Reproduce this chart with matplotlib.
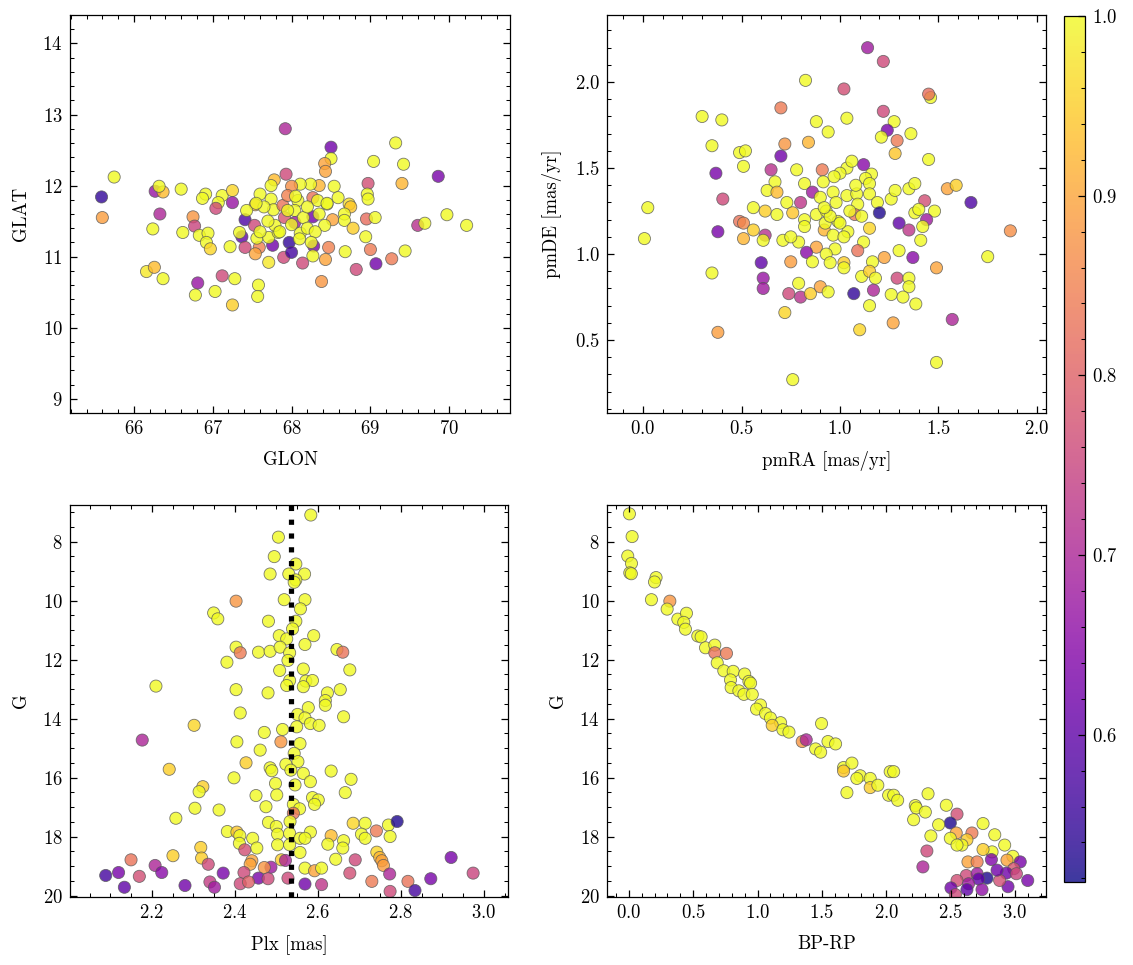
import numpy as np
import matplotlib
matplotlib.use("Agg")
import matplotlib.pyplot as plt
from matplotlib.ticker import MultipleLocator

# --- sky positions (GLON, GLAT, membership probability)
glon = [65.75, 65.59, 65.60, 66.27, 66.37, 66.32, 66.33, 66.24, 66.60, 66.91, 66.87, 67.12, 67.07, 67.25,
        67.25, 67.04, 66.75, 66.77, 66.62, 66.83, 66.94, 66.92, 66.97, 67.22, 66.16, 66.26, 66.37, 66.81,
        67.12, 67.28, 66.78, 67.03, 67.25, 67.58, 67.57, 67.92, 67.41, 67.37, 67.53, 67.41, 67.59, 67.54,
        67.76, 67.71, 67.60, 67.54, 67.74, 67.77, 67.43, 67.78, 67.74, 67.34, 67.56, 67.71, 67.83, 67.79,
        67.93, 67.89, 67.91, 67.90, 67.97,
        68.50, 68.50, 68.42, 68.43, 69.32, 69.04, 69.42, 69.86, 69.40, 68.97, 68.96, 68.97, 68.54, 68.59,
        68.45, 68.35, 68.24, 68.11, 68.00, 67.95, 68.27, 68.08, 68.33, 68.04, 68.73, 68.75, 68.67, 68.27,
        68.04, 68.52, 68.67, 68.78, 68.42, 68.95, 69.06, 69.60, 69.69, 69.97, 70.22, 68.94, 68.11, 68.00,
        68.28, 68.47, 68.27, 68.43, 68.14, 68.68, 69.00, 69.44, 68.82, 69.07, 69.27, 68.38,
        67.95, 68.00, 68.15, 68.20, 67.85, 68.10, 68.30, 68.05, 67.65, 68.20, 67.70, 68.35, 67.60, 68.45,
        67.55, 68.25]
glat = [12.12, 11.84, 11.55, 11.92, 11.91, 11.99, 11.60, 11.39, 11.95, 11.88, 11.82, 11.86, 11.76, 11.93,
        11.76, 11.68, 11.56, 11.43, 11.34, 11.30, 11.33, 11.20, 11.11, 11.14, 10.79, 10.85, 10.69, 10.63,
        10.73, 10.69, 10.46, 10.51, 10.32, 10.60, 10.44, 12.80, 11.52, 11.28, 11.44, 11.13, 11.13, 11.04,
        11.16, 10.92, 11.88, 11.73, 11.81, 11.66, 11.65, 12.08, 12.00, 11.34, 11.26, 11.27, 11.34, 11.44,
        12.16, 11.72, 11.55, 10.99, 11.20,
        12.54, 12.38, 12.31, 12.20, 12.60, 12.34, 12.30, 12.13, 12.03, 12.03, 11.88, 11.81, 11.99, 11.83,
        11.74, 12.00, 12.02, 12.02, 11.99, 11.86, 11.83, 11.79, 11.79, 11.65, 11.74, 11.70, 11.60, 11.56,
        11.48, 11.52, 11.51, 11.40, 11.44, 11.53, 11.55, 11.44, 11.47, 11.59, 11.44, 11.28, 11.33, 11.06,
        11.15, 11.13, 11.01, 10.96, 10.91, 11.07, 11.10, 11.08, 10.82, 10.90, 10.97, 10.65,
        11.65, 11.45, 11.55, 11.40, 11.35, 11.25, 11.35, 11.85, 11.70, 11.70, 11.50, 11.60, 11.35, 11.75,
        11.75, 11.20]
p_sky = [1.0, 0.55, 0.89, 0.67, 0.93, 1.0, 0.70, 1.0, 1.0, 1.0, 1.0, 1.0, 1.0, 0.96,
         0.67, 0.76, 0.88, 0.75, 1.0, 1.0, 1.0, 1.0, 0.96, 1.0, 0.98, 0.93, 1.0, 0.67,
         0.76, 1.0, 1.0, 1.0, 0.95, 1.0, 1.0, 0.70, 0.58, 0.60, 0.76, 0.76, 0.85, 0.90,
         0.62, 0.98, 1.0, 0.92, 1.0, 1.0, 1.0, 0.93, 1.0, 1.0, 1.0, 1.0, 1.0, 1.0,
         0.76, 0.83, 0.78, 0.76, 0.55,
         0.62, 1.0, 0.90, 0.90, 1.0, 1.0, 1.0, 0.63, 0.92, 0.77, 1.0, 1.0, 1.0, 1.0,
         1.0, 0.92, 1.0, 1.0, 0.87, 0.85, 0.83, 1.0, 1.0, 1.0, 0.97, 0.94, 1.0, 0.62,
         0.68, 0.90, 1.0, 0.95, 1.0, 0.82, 1.0, 0.72, 1.0, 1.0, 1.0, 1.0, 1.0, 0.57,
         0.63, 0.85, 1.0, 0.90, 0.76, 1.0, 0.84, 1.0, 0.76, 0.62, 0.84, 0.88,
         1.0, 1.0, 1.0, 1.0, 1.0, 1.0, 1.0, 1.0, 1.0, 1.0, 1.0, 1.0, 1.0, 1.0,
         1.0, 1.0]

# --- proper motions (pmRA, pmDE, probability)
pmra = [0.825, 0.70, 0.30, 0.40, 0.88, 0.35, 0.72, 0.84, 0.49, 0.52, 0.51, 0.70, 0.37, 0.65, 0.78, 0.91,
        0.67, 0.63, 0.68, 0.82, 0.86, 0.405, 0.024, 0.007, 0.73, 0.80, 0.56, 0.62, 0.68, 0.76, 0.82, 0.82,
        0.88, 0.93, 0.49, 0.51, 0.38, 0.56, 0.51, 0.62, 0.61, 0.71, 0.79, 0.75, 0.92, 0.88, 0.83, 0.86,
        0.60, 0.75, 0.35, 0.61, 0.61, 0.74, 0.80, 0.79, 0.85, 0.90, 0.72, 0.38, 0.76,
        1.14, 1.22, 1.02, 1.46, 1.45, 1.22, 1.035, 0.94, 1.275, 1.24, 1.21, 1.36, 1.29, 1.28, 1.45, 1.12,
        1.035, 1.06, 1.00, 1.16, 1.13, 1.15, 0.915, 0.965, 1.035, 1.085, 1.15, 1.09, 1.19, 1.26, 1.28, 1.35,
        1.38, 1.545, 1.59, 1.665, 1.43, 1.38, 1.40, 1.48, 1.20, 1.075, 1.11, 1.30, 1.44, 1.35, 1.42, 1.41,
        1.865, 1.15, 0.925, 0.99, 1.04, 0.965, 1.12, 1.09, 0.975, 0.93, 1.30, 1.37, 1.225, 1.165, 1.02, 1.02,
        1.75, 1.49, 0.95, 1.11, 1.15, 1.18, 1.29, 1.35, 1.35, 1.07, 1.17, 1.26, 1.32, 0.94, 1.15, 1.385,
        1.57, 1.27, 1.10, 1.49,
        0.98, 1.05, 0.95, 1.00, 1.08, 0.90, 0.97, 1.02, 0.92]
pmde = [2.01, 1.85, 1.80, 1.78, 1.77, 1.63, 1.64, 1.65, 1.59, 1.60, 1.51, 1.57, 1.47, 1.49, 1.49, 1.49,
        1.42, 1.37, 1.36, 1.41, 1.36, 1.32, 1.27, 1.09, 1.30, 1.30, 1.27, 1.25, 1.23, 1.24, 1.20, 1.16,
        1.23, 1.25, 1.19, 1.18, 1.13, 1.14, 1.09, 1.11, 1.08, 1.08, 1.07, 1.10, 1.14, 1.04, 1.01, 0.955,
        0.95, 0.955, 0.89, 0.86, 0.80, 0.77, 0.75, 0.83, 0.77, 0.81, 0.66, 0.545, 0.27,
        2.20, 2.12, 1.96, 1.91, 1.93, 1.83, 1.79, 1.71, 1.77, 1.72, 1.68, 1.70, 1.66, 1.585, 1.55, 1.52,
        1.50, 1.54, 1.47, 1.465, 1.44, 1.41, 1.42, 1.36, 1.34, 1.35, 1.35, 1.29, 1.30, 1.32, 1.37, 1.38,
        1.41, 1.38, 1.40, 1.30, 1.31, 1.24, 1.26, 1.25, 1.24, 1.23, 1.22, 1.18, 1.20, 1.14, 1.16, 1.08,
        1.135, 1.15, 1.18, 1.19, 1.13, 1.11, 1.07, 1.02, 1.03, 1.00, 1.02, 0.98, 0.98, 0.955, 0.95, 0.92,
        0.985, 0.92, 0.95, 0.87, 0.90, 0.86, 0.86, 0.86, 0.81, 0.77, 0.79, 0.765, 0.75, 0.78, 0.70, 0.71,
        0.62, 0.60, 0.56, 0.37,
        1.30, 1.25, 1.22, 1.18, 1.40, 1.33, 1.45, 1.10, 1.27]
p_pm = [1.0, 0.84, 1.0, 1.0, 1.0, 1.0, 0.88, 0.92, 1.0, 1.0, 1.0, 0.62, 0.63, 0.72, 1.0, 0.84,
        1.0, 1.0, 0.93, 1.0, 0.68, 0.76, 1.0, 1.0, 1.0, 0.73, 1.0, 0.95, 1.0, 0.94, 1.0, 1.0,
        1.0, 1.0, 0.83, 0.86, 0.63, 0.95, 0.92, 0.72, 1.0, 1.0, 1.0, 1.0, 0.92, 0.90, 0.65, 1.0,
        0.60, 0.89, 1.0, 0.67, 0.68, 0.76, 0.72, 1.0, 0.95, 0.90, 0.96, 0.89, 1.0,
        0.68, 0.76, 0.77, 1.0, 0.82, 0.76, 1.0, 1.0, 1.0, 0.63, 1.0, 1.0, 0.84, 0.94, 1.0, 0.65,
        1.0, 1.0, 1.0, 1.0, 1.0, 1.0, 1.0, 1.0, 1.0, 1.0, 1.0, 1.0, 1.0, 1.0, 1.0, 1.0,
        1.0, 0.90, 0.95, 0.58, 0.77, 1.0, 1.0, 1.0, 0.53, 0.84, 1.0, 0.60, 0.68, 0.73, 1.0, 1.0,
        0.87, 0.96, 1.0, 1.0, 1.0, 1.0, 1.0, 0.83, 1.0, 1.0, 1.0, 0.65, 0.90, 1.0, 0.95, 1.0,
        1.0, 0.90, 1.0, 1.0, 0.95, 1.0, 0.76, 1.0, 1.0, 0.55, 0.70, 1.0, 1.0, 1.0, 1.0, 1.0,
        0.70, 0.90, 0.96, 1.0,
        1.0, 1.0, 1.0, 1.0, 1.0, 1.0, 1.0, 1.0, 1.0]

# --- parallax vs G
plx = [2.583, 2.505, 2.495, 2.547, 2.485, 2.530, 2.568, 2.547, 2.543, 2.403, 2.519, 2.569, 2.558, 2.349,
       2.359, 2.481, 2.547, 2.539, 2.507, 2.525, 2.590, 2.569, 2.403, 2.413, 2.457, 2.485, 2.509, 2.532,
       2.646, 2.660, 2.381, 2.528, 2.508, 2.565, 2.677, 2.532, 2.571, 2.587, 2.525, 2.565, 2.210, 2.403,
       2.480, 2.623, 2.654, 2.618,
       2.618, 2.577, 2.413, 2.551, 2.569, 2.582, 2.549, 2.603, 2.662, 2.302, 2.177, 2.471, 2.515, 2.511,
       2.405, 2.557, 2.461, 2.543, 2.552, 2.427, 2.523, 2.485, 2.489, 2.242, 2.535, 2.565, 2.582, 2.632,
       2.680, 2.398, 2.498, 2.545, 2.323, 2.314, 2.501, 2.451, 2.587, 2.601, 2.592, 2.666, 2.475, 2.541,
       2.304, 2.362, 2.556, 2.541, 2.258, 2.481, 2.500, 2.533, 2.685, 2.714, 2.770, 2.791, 2.382, 2.405,
       2.412, 2.503, 2.532, 2.582, 2.443, 2.557, 2.569, 2.632, 2.662, 2.705, 2.741, 2.714, 2.774, 2.411,
       2.503, 2.532, 2.624, 2.660, 2.318, 2.453, 2.424, 2.557, 2.742, 2.749, 2.754, 2.758, 2.251, 2.320,
       2.150, 2.441, 2.437, 2.512, 2.522, 2.643, 2.690, 2.208, 2.336, 2.487, 2.471, 2.569, 2.592, 2.609,
       2.120, 2.224, 2.170, 2.089, 2.372, 2.422, 2.457, 2.480, 2.528, 2.677, 2.773, 2.921, 2.974, 2.872,
       2.817, 2.730, 2.134, 2.280, 2.340, 2.351, 2.413, 2.433, 2.569, 2.609, 2.774, 2.834]
g_plx = [7.10, 7.85, 8.51, 8.76, 9.10, 9.10, 9.10, 9.30, 9.38, 10.02, 9.97, 9.97, 10.28, 10.42,
         10.62, 10.70, 10.70, 10.96, 11.19, 11.30, 11.19, 11.49, 11.58, 11.77, 11.75, 11.72, 11.58, 11.77,
         11.66, 11.75, 12.09, 12.03, 12.37, 12.32, 12.35, 12.71, 12.73, 12.71, 12.88, 12.92, 12.90, 13.02,
         13.13, 13.13, 13.02, 13.39,
         13.55, 13.63, 13.81, 13.86, 13.98, 14.17, 14.28, 14.23, 13.94, 14.23, 14.73, 14.47, 14.37, 14.79,
         14.79, 14.85, 15.07, 15.18, 15.46, 15.50, 15.55, 15.67, 15.77, 15.72, 15.75, 15.86, 16.14, 15.78,
         16.06, 16.01, 16.20, 16.25, 16.31, 16.48, 16.59, 16.61, 16.68, 16.76, 16.91, 16.51, 16.99, 16.91,
         17.04, 17.10, 17.06, 17.21, 17.38, 17.52, 17.66, 17.49, 17.55, 17.55, 17.61, 17.49, 17.83, 17.85,
         17.97, 17.92, 17.89, 17.85, 18.06, 18.06, 18.06, 17.97, 18.14, 17.92, 17.81, 18.06, 18.00, 18.23,
         18.28, 18.28, 18.26, 18.39, 18.37, 18.39, 18.45, 18.54, 18.53, 18.71, 18.82, 18.98, 18.65, 18.73,
         18.79, 18.82, 18.94, 18.79, 18.81, 18.77, 18.79, 18.98, 18.94, 19.04, 19.05, 19.07, 19.16, 19.07,
         19.22, 19.22, 19.35, 19.32, 19.24, 19.22, 19.41, 19.43, 19.41, 19.24, 19.27, 18.71, 19.24, 19.43,
         19.52, 19.52, 19.72, 19.66, 19.54, 19.72, 19.60, 19.54, 19.61, 19.63, 19.86, 19.83]
p_plx = [1.0, 1.0, 1.0, 1.0, 1.0, 1.0, 1.0, 1.0, 1.0, 0.88, 1.0, 1.0, 1.0, 1.0,
         1.0, 1.0, 1.0, 1.0, 1.0, 1.0, 1.0, 1.0, 1.0, 0.84, 1.0, 1.0, 1.0, 1.0,
         1.0, 0.83, 1.0, 1.0, 1.0, 1.0, 1.0, 1.0, 1.0, 1.0, 1.0, 1.0, 1.0, 1.0,
         1.0, 1.0, 1.0, 1.0,
         1.0, 1.0, 1.0, 1.0, 1.0, 1.0, 1.0, 1.0, 1.0, 0.96, 0.70, 1.0, 1.0, 0.88,
         1.0, 1.0, 1.0, 1.0, 1.0, 0.95, 1.0, 1.0, 1.0, 0.95, 1.0, 1.0, 1.0, 1.0,
         1.0, 1.0, 1.0, 1.0, 0.95, 1.0, 1.0, 1.0, 1.0, 1.0, 1.0, 1.0, 1.0, 1.0,
         1.0, 1.0, 1.0, 0.83, 1.0, 1.0, 1.0, 1.0, 0.96, 1.0, 1.0, 0.53, 1.0, 0.94,
         1.0, 1.0, 1.0, 1.0, 1.0, 1.0, 1.0, 0.93, 1.0, 1.0, 0.84, 1.0, 1.0, 1.0,
         1.0, 1.0, 1.0, 1.0, 0.95, 1.0, 0.77, 1.0, 0.96, 0.92, 0.90, 0.89, 0.95, 0.95,
         0.83, 0.90, 0.90, 0.95, 0.70, 1.0, 0.76, 0.70, 0.76, 0.68, 0.88, 1.0, 0.90, 1.0,
         0.63, 0.65, 0.77, 0.57, 0.63, 0.76, 0.63, 0.76, 0.76, 0.77, 0.70, 0.63, 0.75, 0.63,
         0.83, 0.84, 0.60, 0.62, 0.74, 0.68, 0.76, 0.80, 0.62, 0.73, 0.76, 0.57]
plx_mean = 2.535

# --- colour-magnitude diagram
bprp = [0.005, 0.026, -0.008, 0.021, 0.008, 0.02, 0.212, 0.20, 0.176, 0.319, 0.298, 0.381, 0.448, 0.427,
        0.44, 0.536, 0.562, 0.596, 0.668, 0.668, 0.759, 0.687, 0.738, 0.811, 0.90, 0.933, 0.946, 0.79,
        0.795, 0.855, 0.894, 0.959, 1.023, 0.992, 1.062, 1.10, 1.179, 1.114, 1.197, 1.244, 1.497, 1.347,
        1.378, 1.547, 1.606, 1.451, 1.49,
        1.668, 1.733, 1.668, 1.797, 1.771, 1.875, 1.875, 1.934, 1.694, 2.03, 2.057, 2.018, 2.057, 2.088,
        2.324, 2.225, 2.233, 2.303, 2.212, 2.466, 2.549, 2.497, 2.406, 2.751, 2.842, 2.346, 2.543, 2.665,
        2.497, 2.626, 2.587, 2.549, 2.919, 2.821, 2.751, 2.983, 2.315, 2.284, 2.634, 2.705, 2.816, 2.937,
        3.04, 2.99, 2.621, 2.705, 2.782, 2.717, 2.932, 3.01, 3.098, 2.549, 2.639, 2.502, 2.626, 2.743,
        2.945, 2.536, 2.88, 2.86]
g_cmd = [7.06, 7.83, 8.49, 8.74, 9.06, 9.09, 9.22, 9.37, 9.97, 10.02, 10.29, 10.63, 10.43, 10.74,
         10.97, 11.20, 11.23, 11.60, 11.51, 11.77, 11.79, 12.11, 12.38, 12.40, 12.49, 12.74, 12.80, 12.69,
         12.95, 13.06, 13.18, 13.18, 13.54, 13.68, 13.83, 13.98, 14.14, 14.23, 14.38, 14.46, 14.17, 14.78,
         14.72, 14.78, 14.86, 15.03, 15.14,
         15.66, 15.51, 15.78, 15.94, 16.03, 16.03, 16.34, 16.26, 16.51, 15.80, 15.80, 16.60, 16.60, 16.77,
         16.55, 16.95, 17.03, 17.17, 17.43, 16.94, 17.24, 17.54, 17.60, 17.56, 17.94, 17.98, 17.88, 17.88,
         18.06, 18.11, 18.29, 18.29, 18.29, 18.52, 18.44, 18.67, 18.49, 19.03, 18.86, 18.86, 18.78, 18.80,
         18.86, 19.09, 19.32, 19.26, 19.41, 19.44, 19.24, 19.26, 19.49, 19.49, 19.60, 19.74, 19.80, 19.80,
         19.70, 19.97, 19.49, 19.14]
p_cmd = [1.0, 1.0, 1.0, 1.0, 1.0, 1.0, 1.0, 1.0, 1.0, 0.88, 1.0, 1.0, 1.0, 1.0,
         1.0, 1.0, 1.0, 1.0, 1.0, 0.83, 0.84, 1.0, 1.0, 1.0, 1.0, 1.0, 1.0, 1.0,
         1.0, 1.0, 1.0, 1.0, 1.0, 1.0, 1.0, 1.0, 1.0, 0.95, 1.0, 1.0, 1.0, 0.88,
         0.70, 1.0, 1.0, 1.0, 1.0,
         1.0, 1.0, 0.94, 1.0, 1.0, 1.0, 0.95, 1.0, 1.0, 1.0, 1.0, 1.0, 1.0, 1.0,
         1.0, 1.0, 1.0, 1.0, 1.0, 1.0, 0.77, 0.53, 1.0, 1.0, 1.0, 1.0, 0.90, 0.84,
         1.0, 0.95, 1.0, 1.0, 1.0, 1.0, 0.95, 1.0, 0.76, 0.70, 0.90, 0.85, 0.64, 0.90,
         0.63, 0.78, 0.76, 0.68, 0.53, 0.60, 0.62, 0.75, 0.63, 0.77, 0.68, 0.62, 0.60, 0.66,
         0.62, 0.76, 0.77, 0.62]

pmin, pmax = 0.518, 1.0

plt.rcParams.update({
    'font.family': 'serif',
    'font.serif': ['cmr10', 'DejaVu Serif'],
    'mathtext.fontset': 'cm',
    'axes.formatter.use_mathtext': True,
    'font.size': 9,
    'axes.labelpad': 6,
    'axes.linewidth': 0.6,
    'xtick.direction': 'in', 'ytick.direction': 'in',
    'xtick.top': True, 'ytick.right': True,
    'xtick.minor.visible': True, 'ytick.minor.visible': True,
    'xtick.major.size': 3.5, 'ytick.major.size': 3.5,
    'xtick.minor.size': 1.8, 'ytick.minor.size': 1.8,
    'xtick.major.width': 0.6, 'ytick.major.width': 0.6,
    'xtick.minor.width': 0.5, 'ytick.minor.width': 0.5,
})

W, H = 1133, 965
fig = plt.figure(figsize=(W / 150, H / 150), dpi=150)


def box(l, r, t, b):
    return [l / W, 1 - b / H, (r - l) / W, (b - t) / H]


ax1 = fig.add_axes(box(70, 510, 15, 413))
ax2 = fig.add_axes(box(607, 1046, 15, 413))
ax3 = fig.add_axes(box(70, 508, 505, 897))
ax4 = fig.add_axes(box(607, 1046, 505, 897))
cax = fig.add_axes(box(1064, 1085, 16, 882))

kw = dict(cmap='plasma', vmin=pmin, vmax=pmax, s=34, alpha=0.8,
          edgecolors='0.35', linewidths=0.4)

sc = ax1.scatter(glon, glat, c=p_sky, **kw)
ax1.set_xlim(65.19, 70.77)
ax1.set_ylim(8.8, 14.4)
ax1.set_xlabel('GLON')
ax1.set_ylabel('GLAT')

ax2.scatter(pmra, pmde, c=p_pm, **kw)
ax2.set_xlim(-0.183, 2.046)
ax2.set_ylim(0.076, 2.39)
ax2.xaxis.set_major_locator(MultipleLocator(0.5))
ax2.yaxis.set_major_locator(MultipleLocator(0.5))
ax2.set_xlabel('pmRA [mas/yr]')
ax2.set_ylabel('pmDE [mas/yr]')

ax3.scatter(plx, g_plx, c=p_plx, **kw)
ax3.axvline(plx_mean, color='k', ls=':', lw=2.5, zorder=5)
ax3.set_xlim(2.003, 3.058)
ax3.set_ylim(20.05, 6.76)
ax3.set_xlabel('Plx [mas]')
ax3.set_ylabel('G')

ax4.scatter(bprp, g_cmd, c=p_cmd, **kw)
ax4.set_xlim(-0.169, 3.24)
ax4.set_ylim(20.05, 6.76)
ax4.xaxis.set_major_locator(MultipleLocator(0.5))
ax4.set_xlabel('BP-RP')
ax4.set_ylabel('G')

cb = fig.colorbar(sc, cax=cax)
cb.outline.set_linewidth(0.6)
cb.ax.tick_params(which='both', direction='in')

fig.savefig('out.png', dpi=150)
